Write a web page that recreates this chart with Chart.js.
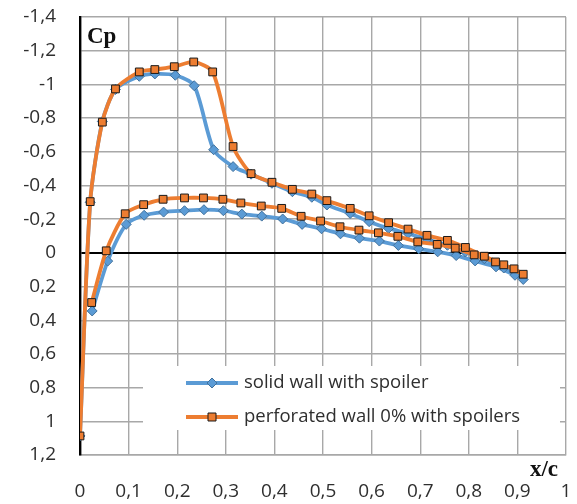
<!DOCTYPE html>
<html>
<head>
<meta charset="utf-8">
<script src="https://cdn.jsdelivr.net/npm/chart.js@4.4.1/dist/chart.umd.min.js"></script>
<style>
  html, body { margin: 0; padding: 0; background: #fff; }
  #wrap { width: 577px; height: 504px; }
</style>
</head>
<body>
<div id="wrap"><canvas id="cpChart" width="577" height="504"></canvas></div>
<script>
// tick values
const xTicks = [0, 0.1, 0.2, 0.3, 0.4, 0.5, 0.6, 0.7, 0.8, 0.9, 1];
const yTicks = [-1.4, -1.2, -1, -0.8, -0.6, -0.4, -0.2, 0, 0.2, 0.4, 0.6, 0.8, 1, 1.2];

// solid wall with spoiler (lower branch LE->TE, then upper branch TE->LE)
const solidX = [0.025, 0.057, 0.095, 0.132, 0.172, 0.215, 0.255, 0.295, 0.333, 0.374, 0.417, 0.457,
  0.497, 0.536, 0.575, 0.616, 0.655, 0.697, 0.736, 0.774, 0.813, 0.856, 0.895,
  0.912, 0.872, 0.832, 0.793, 0.756, 0.714, 0.675, 0.635, 0.595, 0.556, 0.508, 0.477,
  0.437, 0.395, 0.352, 0.315, 0.275, 0.235, 0.196, 0.154, 0.122, 0.073, 0.046, 0.021, 0];
const solidCp = [0.345, 0.049, -0.169, -0.223, -0.242, -0.250, -0.256, -0.250, -0.230, -0.218, -0.201, -0.169,
  -0.143, -0.113, -0.087, -0.070, -0.044, -0.024, -0.006, 0.016, 0.048, 0.083, 0.133,
  0.158, 0.09, 0.035, -0.005, -0.045, -0.08, -0.115, -0.145, -0.185, -0.234, -0.284, -0.330,
  -0.363, -0.413, -0.467, -0.512, -0.612, -0.992, -1.054, -1.062, -1.048, -0.970, -0.780, -0.300, 1.087];

// perforated wall 0% with spoilers
const perfX = [0.024, 0.054, 0.093, 0.131, 0.171, 0.215, 0.254, 0.294, 0.331, 0.373, 0.415, 0.455,
  0.495, 0.535, 0.574, 0.614, 0.654, 0.695, 0.735, 0.772, 0.811, 0.855, 0.893,
  0.912, 0.872, 0.832, 0.793, 0.756, 0.714, 0.675, 0.635, 0.595, 0.556, 0.508, 0.477,
  0.437, 0.395, 0.352, 0.315, 0.273, 0.234, 0.194, 0.154, 0.122, 0.073, 0.046, 0.021, 0];
const perfCp = [0.295, -0.012, -0.232, -0.286, -0.318, -0.326, -0.326, -0.318, -0.296, -0.278, -0.264, -0.217,
  -0.189, -0.155, -0.135, -0.119, -0.098, -0.065, -0.050, -0.028, 0.012, 0.054, 0.095,
  0.127, 0.071, 0.020, -0.032, -0.074, -0.104, -0.141, -0.179, -0.220, -0.264, -0.310, -0.349,
  -0.377, -0.419, -0.470, -0.631, -1.074, -1.133, -1.105, -1.088, -1.074, -0.973, -0.776, -0.304, 1.087];

const seriesNames = ['solid wall with spoiler', 'perforated wall 0% with spoilers'];

const BLUE = '#5B9BD5';
const ORANGE = '#ED7D31';
const GRID = '#A8A8A8';
const TXT = '#2f2f2f';
const FONT = '"Open Sans", sans-serif';

const toPoints = (xs, ys) => xs.map((x, i) => ({ x: x, y: ys[i] }));
const fmt = v => {
  const r = Math.round(v * 10) / 10;
  return (r === 0 ? '0' : String(r)).replace('.', ',');
};

// legend box inside the plot + axis captions
const extras = {
  id: 'extras',
  afterDatasetsDraw(chart) {
    const ctx = chart.ctx;
    ctx.save();
    // legend
    ctx.fillStyle = '#fff';
    ctx.fillRect(143, 366, 417, 64);
    const rows = [383, 417];
    chart.data.datasets.forEach((ds, i) => {
      const y = rows[i];
      ctx.strokeStyle = ds.borderColor;
      ctx.lineWidth = ds.borderWidth;
      ctx.beginPath();
      ctx.moveTo(186, y);
      ctx.lineTo(238, y);
      ctx.stroke();
      ctx.fillStyle = ds.pointBackgroundColor;
      ctx.strokeStyle = ds.pointBorderColor;
      ctx.lineWidth = 1;
      ctx.beginPath();
      if (ds.pointStyle === 'rectRot') {
        ctx.moveTo(212, y - 5); ctx.lineTo(217, y); ctx.lineTo(212, y + 5); ctx.lineTo(207, y);
        ctx.closePath();
      } else {
        ctx.rect(208, y - 4, 8, 8);
      }
      ctx.fill();
      ctx.stroke();
      ctx.fillStyle = TXT;
      ctx.font = '18.5px ' + FONT;
      ctx.textBaseline = 'middle';
      ctx.textAlign = 'left';
      ctx.fillText(ds.label, 244, y);
    });
    ctx.restore();
  },
  afterDraw(chart) {
    const ctx = chart.ctx;
    ctx.save();
    ctx.fillStyle = '#111';
    ctx.font = 'bold 23px "Liberation Serif", "Times New Roman", serif';
    ctx.textBaseline = 'alphabetic';
    ctx.textAlign = 'left';
    ctx.fillText('Cp', 87, 43);
    ctx.textAlign = 'right';
    ctx.fillText('x/c', 558, 476);
    ctx.restore();
  }
};

const ctx = document.getElementById('cpChart').getContext('2d');
new Chart(ctx, {
  type: 'scatter',
  data: {
    datasets: [{
      label: seriesNames[0],
      data: toPoints(solidX, solidCp),
      showLine: true,
      borderColor: BLUE,
      borderWidth: 3.8,
      tension: 0.25,
      pointStyle: 'rectRot',
      pointRadius: 5,
      pointBackgroundColor: BLUE,
      pointBorderColor: '#41719C',
      pointBorderWidth: 1,
      order: 2
    }, {
      label: seriesNames[1],
      data: toPoints(perfX, perfCp),
      showLine: true,
      borderColor: ORANGE,
      borderWidth: 3.8,
      tension: 0.25,
      pointStyle: 'rect',
      pointRadius: 5.5,
      pointBackgroundColor: ORANGE,
      pointBorderColor: '#1a1a1a',
      pointBorderWidth: 1,
      order: 1
    }]
  },
  options: {
    responsive: false,
    animation: false,
    devicePixelRatio: 1,
    layout: { padding: { left: 0, right: 11, top: 17, bottom: 0 } },
    plugins: {
      legend: { display: false },
      tooltip: { enabled: false }
    },
    scales: {
      x: {
        type: 'linear',
        min: 0,
        max: 1,
        afterBuildTicks: s => { s.ticks = xTicks.map(v => ({ value: v })); },
        afterFit: s => { s.height = 49; s.paddingLeft = 0; s.paddingRight = 0; },
        grid: { color: GRID, lineWidth: 1.4, drawTicks: false },
        border: { color: GRID, width: 1.4 },
        ticks: {
          padding: 25,
          color: TXT,
          font: { family: FONT, size: 19 },
          callback: v => fmt(v)
        }
      },
      y: {
        type: 'linear',
        reverse: true,
        min: -1.4,
        max: 1.2,
        afterBuildTicks: s => { s.ticks = yTicks.map(v => ({ value: v })); },
        afterFit: s => { s.width = 80; s.paddingTop = 0; s.paddingBottom = 0; },
        grid: {
          drawTicks: false,
          color: c => (Math.abs(c.tick.value) < 1e-9 ? '#000' : GRID),
          lineWidth: c => (Math.abs(c.tick.value) < 1e-9 ? 2 : 1.4)
        },
        border: { color: '#000', width: 2.4 },
        ticks: {
          padding: 24,
          color: TXT,
          font: { family: FONT, size: 19 },
          callback: v => fmt(v)
        }
      }
    }
  },
  plugins: [extras]
});
</script>
</body>
</html>
